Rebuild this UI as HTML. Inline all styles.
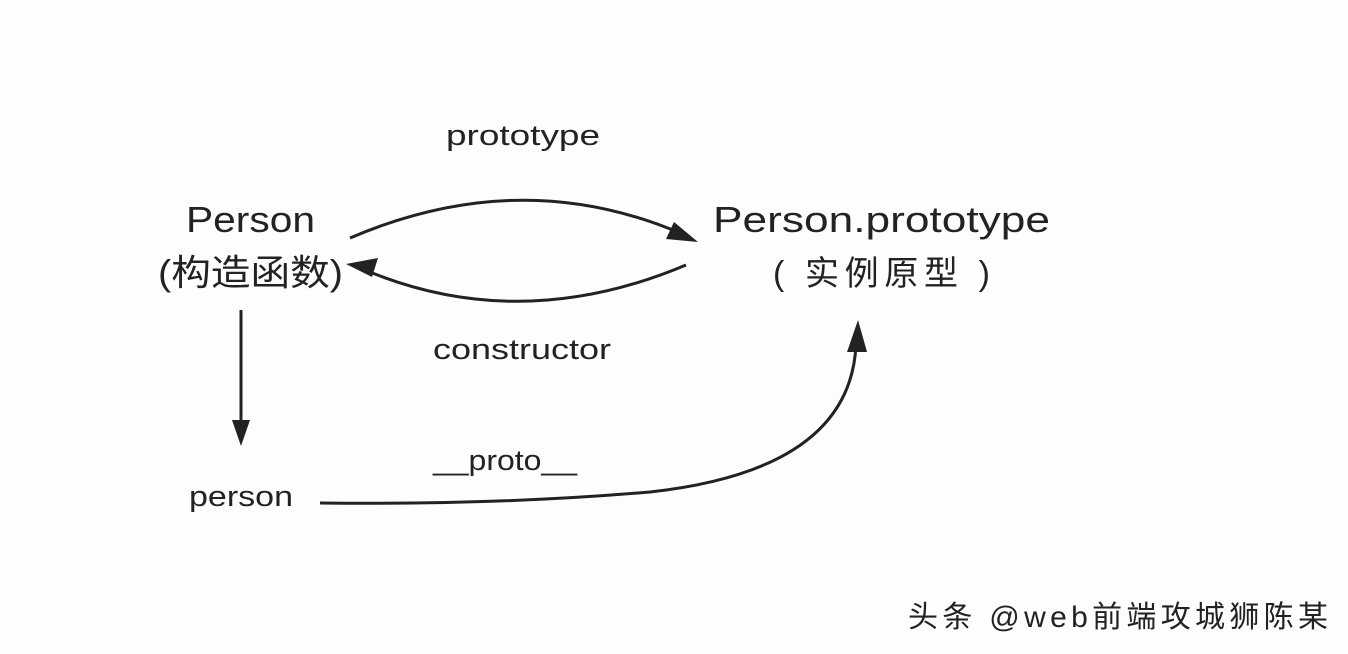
<!DOCTYPE html>
<html><head><meta charset="utf-8"><style>
html,body{margin:0;padding:0;background:#fdfdfd;}
svg{display:block}
text{font-family:"Liberation Sans","Noto Sans CJK SC",sans-serif;fill:#222;}
</style></head><body>
<svg width="1348" height="654" viewBox="0 0 1348 654">
<rect width="1348" height="654" fill="#fdfdfd"/>
<g stroke="#222" stroke-width="3" fill="none">
<path d="M350,238 Q520,165 680,233"/>
<path d="M686,265 Q520,335 365,270"/>
<path d="M241,310 L241,425"/>
<path d="M320,503 Q500,505 650,492 Q850,470 856,345"/>
</g>
<g fill="#222">
<polygon points="698,242 666,239 674,222"/>
<polygon points="346,264 378,258 372,277"/>
<polygon points="241,446 232,420 250,420"/>
<polygon points="858,320 847,352 867,352"/>
</g>
<text x="186" y="232" font-size="36" textLength="129" lengthAdjust="spacingAndGlyphs">Person</text>
<text x="158" y="285" font-size="36" textLength="185" lengthAdjust="spacingAndGlyphs">(构造函数)</text>
<text x="713" y="232" font-size="36" textLength="337" lengthAdjust="spacingAndGlyphs">Person.prototype</text>
<text x="773" y="285" font-size="34" textLength="217" xml:space="preserve">( 实例原型 )</text>
<text x="446" y="145" font-size="29" textLength="154" lengthAdjust="spacingAndGlyphs">prototype</text>
<text x="433" y="359" font-size="29" textLength="178" lengthAdjust="spacingAndGlyphs">constructor</text>
<text x="433" y="470" font-size="29" textLength="144" lengthAdjust="spacingAndGlyphs">__proto__</text>
<text x="189" y="506" font-size="29" textLength="104" lengthAdjust="spacingAndGlyphs">person</text>
<text x="908" y="627" font-size="30" textLength="420">头条 @web前端攻城狮陈某</text>
</svg>
</body></html>
